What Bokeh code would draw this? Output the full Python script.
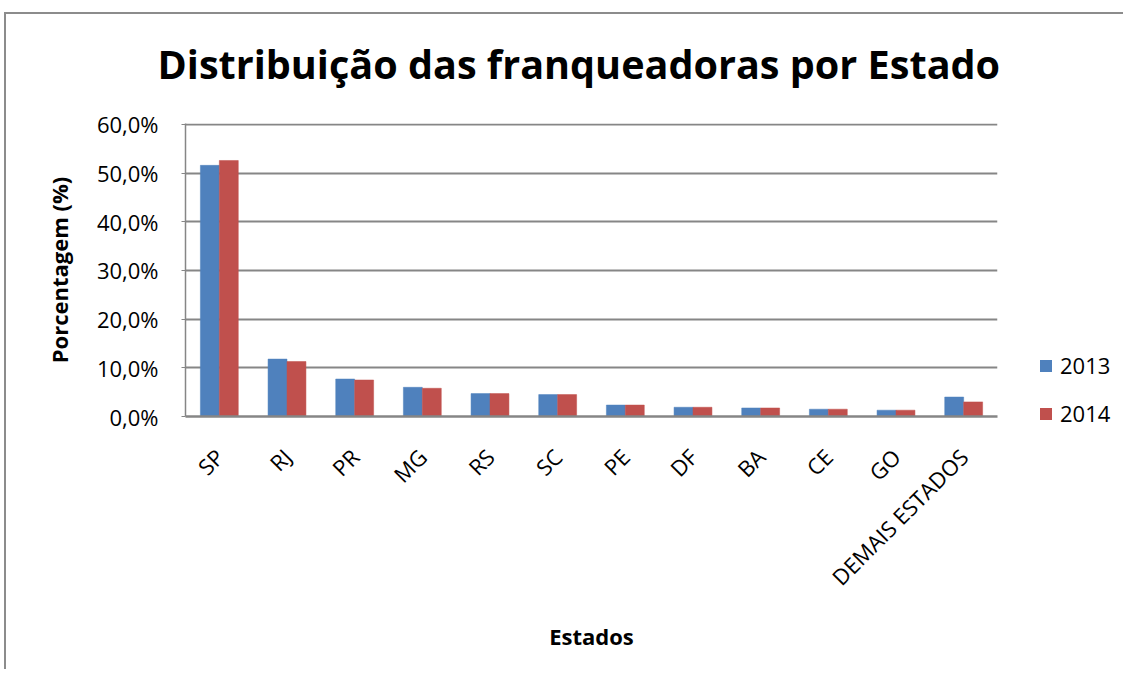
from math import pi
from bokeh.plotting import figure
from bokeh.layouts import row
from bokeh.models import FactorRange, Range1d, Legend, LegendItem, FixedTicker, ColumnDataSource
from bokeh.transform import dodge
from bokeh.embed import file_html
from bokeh.resources import INLINE

# ---- data ----
estados = ["SP", "RJ", "PR", "MG", "RS", "SC", "PE", "DF", "BA", "CE", "GO", "DEMAIS ESTADOS"]
pct_2013 = [51.6, 11.8, 7.7, 6.0, 4.7, 4.5, 2.35, 1.9, 1.75, 1.5, 1.3, 4.0]
pct_2014 = [52.6, 11.3, 7.5, 5.8, 4.7, 4.5, 2.35, 1.9, 1.75, 1.5, 1.3, 3.0]
y_ticks = [0, 10, 20, 30, 40, 50, 60]
y_tick_labels = ["0,0%", "10,0%", "20,0%", "30,0%", "40,0%", "50,0%", "60,0%"]
series_names = ["2013", "2014"]

FONT = "Open Sans"
GREY = "#868686"
BLUE = "#4F81BD"
RED = "#C0504D"

source = ColumnDataSource(dict(estado=estados, a=pct_2013, b=pct_2014))

p = figure(
    width=1003, height=669,
    x_range=FactorRange(*estados, range_padding=0),
    y_range=Range1d(0, 60.2),
    output_backend="svg", toolbar_location=None, tools="",
    min_border_left=181, min_border_right=10,
    min_border_top=123, min_border_bottom=253,
    title="Distribuição das franqueadoras por Estado",
)
p.frame_align = False

r1 = p.vbar(x=dodge("estado", -0.14, range=p.x_range), top="a", width=0.28,
            source=source, fill_color=BLUE, line_color=BLUE, line_width=0.5)
r2 = p.vbar(x=dodge("estado", 0.14, range=p.x_range), top="b", width=0.28,
            source=source, fill_color=RED, line_color=RED, line_width=0.5)

# title
p.title.text_font = FONT
p.title.text_font_size = "39.6px"
p.title.text_font_style = "bold"
p.title.align = "left"
p.title.offset = -28
p.title.text_color = "black"
p.title.standoff = 66

# grid / background
p.xgrid.grid_line_color = None
p.ygrid.grid_line_color = GREY
p.ygrid.grid_line_width = 2
p.outline_line_color = None
p.background_fill_color = "white"
p.border_fill_alpha = 0

# y axis
p.yaxis.ticker = FixedTicker(ticks=y_ticks)
p.yaxis.major_label_overrides = {t: l for t, l in zip(y_ticks, y_tick_labels)}
p.yaxis.axis_line_color = GREY
p.yaxis.axis_line_width = 1.5
p.yaxis.major_tick_line_color = GREY
p.yaxis.major_tick_out = 4
p.yaxis.major_tick_in = 0
p.yaxis.minor_tick_line_color = None
p.yaxis.major_label_standoff = 23
p.yaxis.major_label_text_font = FONT
p.yaxis.major_label_text_font_size = "22px"
p.yaxis.major_label_text_color = "black"
p.yaxis.axis_label = "Porcentagem (%)"
p.yaxis.axis_label_text_font = FONT
p.yaxis.axis_label_text_font_size = "22px"
p.yaxis.axis_label_text_font_style = "bold"
p.yaxis.axis_label_text_color = "black"
p.yaxis.axis_label_standoff = 20

# x axis
p.xaxis.axis_line_color = GREY
p.xaxis.axis_line_width = 2.5
p.xaxis.major_tick_line_color = None
p.xaxis.minor_tick_line_color = None
p.xaxis.major_label_orientation = pi / 4
p.xaxis.major_label_standoff = 30
p.xaxis.major_label_text_font = FONT
p.xaxis.major_label_text_font_size = "22px"
p.xaxis.major_label_text_color = "black"
p.xaxis.axis_label = "Estados"
p.xaxis.axis_label_text_font = FONT
p.xaxis.axis_label_text_font_size = "22px"
p.xaxis.axis_label_text_font_style = "bold"
p.xaxis.axis_label_text_color = "black"
p.xaxis.axis_label_standoff = 16

# legend panel: a companion figure with hidden copies of the series (only the legend shows)
q = figure(
    width=116, height=669,
    x_range=p.x_range, y_range=Range1d(-2, -1),
    output_backend="svg", toolbar_location=None, tools="",
    min_border=0,
)
q.frame_align = False
q.axis.visible = False
q.grid.visible = False
q.outline_line_color = None
q.background_fill_alpha = 0
q.border_fill_alpha = 0
q1 = q.vbar(x=dodge("estado", -0.14, range=q.x_range), top="a", width=0.28,
            source=source, fill_color=BLUE, line_color=None)
q2 = q.vbar(x=dodge("estado", 0.14, range=q.x_range), top="b", width=0.28,
            source=source, fill_color=RED, line_color=None)
q1.visible = False
q2.visible = False

legend = Legend(
    items=[LegendItem(label=series_names[0], renderers=[q1]),
           LegendItem(label=series_names[1], renderers=[q2])],
    location=(31, 241),
    orientation="vertical",
    glyph_width=15, glyph_height=15,
    label_height=24, spacing=18, label_standoff=7,
    padding=0, margin=0,
    border_line_color=None, background_fill_alpha=0,
    inactive_fill_alpha=0,
    label_text_font=FONT, label_text_font_size="22px", label_text_color="black",
)
q.add_layout(legend)

layout = row(p, q)
layout.styles = {
    "margin-left": "4px", "margin-top": "0px",
    "background": ("linear-gradient(#8c8c8c, #8c8c8c) 0px 12px / 100% 2px no-repeat, "
                   "linear-gradient(#8c8c8c, #8c8c8c) 0px 12px / 2px 100% no-repeat, white"),
}

open("out.html", "w").write(file_html(layout, INLINE))
